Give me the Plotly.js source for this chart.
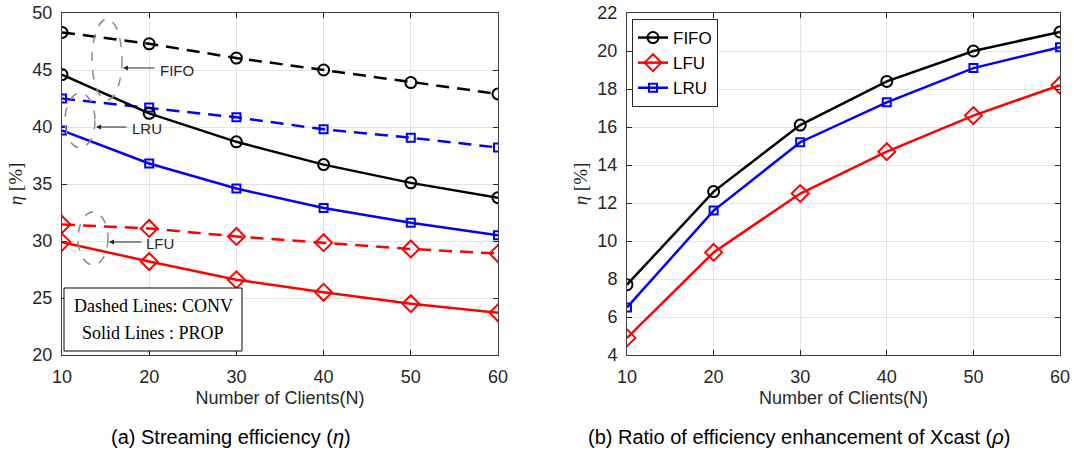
<!DOCTYPE html>
<html><head><meta charset="utf-8">
<script src="https://cdn.plot.ly/plotly-3.0.1.min.js"></script>
<style>body{margin:0;background:#fff}#c{width:1074px;height:456px}</style>
</head><body><div id="c"></div>
<script>
const clients = [10, 20, 30, 40, 50, 60];
// (a) Streaming efficiency (%)
const fifoConv = [48.3, 47.3, 46.05, 45.0, 43.9, 42.9];
const lruConv  = [42.5, 41.7, 40.85, 39.8, 39.06, 38.2];
const lfuConv  = [31.45, 31.1, 30.4, 29.85, 29.3, 28.9];
const fifoProp = [44.6, 41.2, 38.7, 36.7, 35.1, 33.8];
const lruProp  = [39.7, 36.8, 34.6, 32.9, 31.6, 30.5];
const lfuProp  = [29.9, 28.2, 26.6, 25.5, 24.5, 23.7];
// (b) Ratio of efficiency enhancement (%)
const fifoRatio = [7.7, 12.6, 16.1, 18.4, 20.0, 21.0];
const lfuRatio  = [4.9, 9.4, 12.5, 14.7, 16.6, 18.2];
const lruRatio  = [6.5, 11.6, 15.2, 17.3, 19.1, 20.2];
const leftTicksY = [20, 25, 30, 35, 40, 45, 50];
const rightTicksY = [4, 6, 8, 10, 12, 14, 16, 18, 20, 22];

const BLACK='#000000', RED='#ff0000', BLUE='#0000ff';
const DASH='13px,8px';
function tr(y, color, sym, size, dash, xa, ya, name, show){
  return {x: clients, y: y, type:'scatter', mode:'lines+markers', name: name||'',
    showlegend: !!show, xaxis: xa, yaxis: ya,
    line:{color:color, width:2.5, dash:dash||'solid'},
    marker:{symbol:sym, size:size, color:color, line:{color:color, width:2}}};
}
const data = [
  tr(fifoConv, BLACK, 'circle-open', 11, DASH, 'x', 'y'),
  tr(lruConv, BLUE, 'square-open', 8, DASH, 'x', 'y'),
  tr(lfuConv, RED, 'diamond-open', 13, DASH, 'x', 'y'),
  tr(fifoProp, BLACK, 'circle-open', 11, 'solid', 'x', 'y'),
  tr(lruProp, BLUE, 'square-open', 8, 'solid', 'x', 'y'),
  tr(lfuProp, RED, 'diamond-open', 13, 'solid', 'x', 'y'),
  tr(fifoRatio, BLACK, 'circle-open', 11, 'solid', 'x2', 'y2', 'FIFO', true),
  tr(lfuRatio, RED, 'diamond-open', 13, 'solid', 'x2', 'y2', 'LFU', true),
  tr(lruRatio, BLUE, 'square-open', 8, 'solid', 'x2', 'y2', 'LRU', true)
];
const W=1074, H=456;
const px = v => v/W, py = v => 1 - v/H;
const axFont = {family:'Liberation Sans, Arial, sans-serif', size:18, color:'#262626'};
function xax(dom, anchor){
  return {domain:dom, anchor:anchor, range:[10,60], tickvals:clients, ticks:'inside', ticklen:5,
    tickcolor:'#262626', showline:true, mirror:'ticks', linecolor:'#404040', linewidth:1,
    showgrid:true, gridcolor:'#e3e3e3', zeroline:false, tickfont:axFont, ticklabelstandoff:5,
    title:{text:'Number of Clients(N)', font:{family:'Liberation Sans, Arial, sans-serif', size:18, color:'#262626'}, standoff:5}};
}
function yax(dom, anchor, range, tv){
  return {domain:dom, anchor:anchor, range:range, tickvals:tv, ticks:'inside', ticklen:5,
    tickcolor:'#262626', showline:true, mirror:'ticks', linecolor:'#404040', linewidth:1,
    showgrid:true, gridcolor:'#e3e3e3', zeroline:false, tickfont:axFont, ticklabelstandoff:5,
    title:{text:'<i>η</i> [%]', font:{family:'Liberation Serif, Times New Roman, serif', size:19, color:'#262626'}, standoff:4}};
}
const ydom = [py(355), py(13)];
const gray = '#8c8c8c';
const shapes = [
  {type:'circle', xref:'paper', yref:'paper', x0:px(92), x1:px(122), y0:py(100), y1:py(19), line:{color:gray, width:1.5, dash:'dash'}},
  {type:'circle', xref:'paper', yref:'paper', x0:px(65), x1:px(95), y0:py(148), y1:py(93), line:{color:gray, width:1.5, dash:'dash'}},
  {type:'circle', xref:'paper', yref:'paper', x0:px(78), x1:px(108), y0:py(265), y1:py(212), line:{color:gray, width:1.5, dash:'dash'}},
  {type:'rect', xref:'paper', yref:'paper', x0:px(64), x1:px(242), y0:py(351), y1:py(288), line:{color:'#000', width:1}, fillcolor:'#fff'}
];
const annFont = {family:'Liberation Sans, Arial, sans-serif', size:15, color:'#262626'};
const serifFont = {family:'Liberation Serif, Times New Roman, serif', size:18, color:'#000'};
const capFont = {family:'Liberation Sans, Arial, sans-serif', size:20, color:'#000'};
function arrowAnn(tx, ty, hx, hy){
  return {xref:'paper', yref:'paper', x:px(hx), y:py(hy), ax:px(tx), ay:py(ty), axref:'paper', ayref:'paper',
    text:'', showarrow:true, arrowhead:2, arrowsize:1, arrowwidth:1, arrowcolor:'#262626'};
}
const annotations = [
  arrowAnn(156, 68, 123, 68),
  {xref:'paper', yref:'paper', x:px(158), y:py(70), xanchor:'left', yanchor:'middle', text:'FIFO', showarrow:false, font:annFont},
  arrowAnn(128, 127, 96, 127),
  {xref:'paper', yref:'paper', x:px(130), y:py(128), xanchor:'left', yanchor:'middle', text:'LRU', showarrow:false, font:annFont},
  arrowAnn(143, 242, 109, 242),
  {xref:'paper', yref:'paper', x:px(144), y:py(243), xanchor:'left', yanchor:'middle', text:'LFU', showarrow:false, font:annFont},
  {xref:'paper', yref:'paper', x:px(153), y:py(306), xanchor:'center', yanchor:'middle', text:'Dashed Lines: CONV', showarrow:false, font:serifFont},
  {xref:'paper', yref:'paper', x:px(153), y:py(333), xanchor:'center', yanchor:'middle', text:'Solid Lines : PROP', showarrow:false, font:serifFont},
  {xref:'paper', yref:'paper', x:px(231), y:py(437), xanchor:'center', yanchor:'middle', text:'(a) Streaming efficiency (<i>η</i>)', showarrow:false, font:capFont},
  {xref:'paper', yref:'paper', x:px(799), y:py(437), xanchor:'center', yanchor:'middle', text:'(b) Ratio of efficiency enhancement of Xcast (<i>ρ</i>)', showarrow:false, font:capFont}
];
const layout = {
  width:W, height:H, margin:{l:0, r:0, t:0, b:0}, paper_bgcolor:'#fff', plot_bgcolor:'#fff',
  xaxis: xax([px(62), px(498)], 'y'),
  yaxis: yax(ydom, 'x', [20,50], leftTicksY),
  xaxis2: xax([px(627), px(1060)], 'y2'),
  yaxis2: yax(ydom, 'x2', [4,22], rightTicksY),
  shapes: shapes, annotations: annotations,
  showlegend:true,
  legend:{x:px(632), y:py(19), xanchor:'left', yanchor:'top', bgcolor:'#fff', bordercolor:'#262626', borderwidth:1,
    font:{family:'Liberation Sans, Arial, sans-serif', size:17, color:'#000'}, tracegroupgap:0, itemwidth:30}
};
Plotly.newPlot('c', data, layout, {displayModeBar:false, staticPlot:true});
</script></body></html>
